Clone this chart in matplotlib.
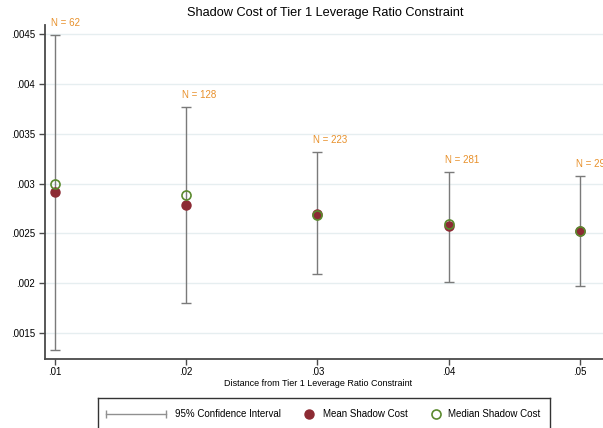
import matplotlib
matplotlib.use("Agg")
import matplotlib.pyplot as plt

plt.rcParams['font.family'] = ['Liberation Sans', 'DejaVu Sans']

# distance buckets and shadow cost summaries
distance = [0.01, 0.02, 0.03, 0.04, 0.05]
mean_cost = [0.002913, 0.002783, 0.002693, 0.002573, 0.002523]
median_cost = [0.003000, 0.002883, 0.002680, 0.002597, 0.002520]
ci_low = [0.001333, 0.001797, 0.002090, 0.002010, 0.001973]
ci_high = [0.004490, 0.003770, 0.003313, 0.003117, 0.003080]
n_obs = [62, 128, 223, 281, 295]

xticks = [0.01, 0.02, 0.03, 0.04, 0.05]
xtick_labels = ['.01', '.02', '.03', '.04', '.05']
yticks = [0.0015, 0.002, 0.0025, 0.003, 0.0035, 0.004, 0.0045]
ytick_labels = ['.0015', '.002', '.0025', '.003', '.0035', '.004', '.0045']

ci_color = '#7a7a7a'
mean_color = '#8c2a33'
median_color = '#5b8a2e'
n_color = '#e8902a'
axis_color = '#4a4a4a'

W, H = 603, 428
fig = plt.figure(figsize=(W / 100, H / 100), dpi=100)
ax = fig.add_axes([45 / W, 1 - 359 / H, 570 / W, 334 / H])

ax.set_xlim(0.00924, 0.05267)
ax.set_ylim(0.00124, 0.00459)

for y in yticks:
    ax.axhline(y, color='#e6eef0', lw=1.0, zorder=0)

yerr = [[m - lo for m, lo in zip(mean_cost, ci_low)],
        [hi - m for m, hi in zip(mean_cost, ci_high)]]
ax.errorbar(distance, mean_cost, yerr=yerr, fmt='none', ecolor=ci_color,
            elinewidth=1.0, capsize=3.5, capthick=1.0, zorder=2)
ax.plot(distance, mean_cost, 'o', color=mean_color, ms=6.5, mec=mean_color, zorder=3)
ax.plot(distance, median_cost, 'o', mfc='none', mec=median_color, ms=6.5, mew=1.2, zorder=4)

for x, hi, n in zip(distance, ci_high, n_obs):
    ax.annotate(f'N = {n}', (x, hi), xytext=(-3, 5), textcoords='offset points',
                color=n_color, fontsize=7, ha='left', va='bottom', annotation_clip=False)

ax.set_xticks(xticks)
ax.set_xticklabels(xtick_labels)
ax.set_yticks(yticks)
ax.set_yticklabels(ytick_labels)
ax.tick_params(axis='both', labelsize=7, length=4.5, width=1.0, color=axis_color, pad=2.5)
ax.tick_params(axis='x', pad=1.5)
ax.set_xlabel('Distance from Tier 1 Leverage Ratio Constraint', fontsize=6.5)
ax.xaxis.set_label_coords((318 - 45) / 570, -(384 - 359) / 334)
ax.xaxis.label.set_va('center')

for side in ('top', 'right'):
    ax.spines[side].set_visible(False)
for side in ('left', 'bottom'):
    ax.spines[side].set_color(axis_color)
    ax.spines[side].set_linewidth(1.3)

fig.text(325 / W, 1 - 13 / H, 'Shadow Cost of Tier 1 Leverage Ratio Constraint',
         ha='center', va='center', fontsize=9.2)

# legend box drawn in its own pixel-scaled axes
lax = fig.add_axes([98 / W, 1 - 440 / H, 452 / W, 42 / H])
lax.set_xlim(98, 550)
lax.set_ylim(440, 398)
lax.set_xticks([])
lax.set_yticks([])
for s in lax.spines.values():
    s.set_color('#333333')
    s.set_linewidth(1.0)

ly = 414
lax.plot([106, 166], [ly, ly], color='#909090', lw=1.0)
lax.plot([106, 166], [ly, ly], ls='none', marker='|', ms=6, mew=1.0, color='#909090')
lax.text(175, ly, '95% Confidence Interval', fontsize=7, va='center')
lax.plot([309], [ly], 'o', color=mean_color, ms=6.5)
lax.text(323, ly, 'Mean Shadow Cost', fontsize=7, va='center')
lax.plot([436], [ly], 'o', mfc='none', mec=median_color, ms=6.5, mew=1.2)
lax.text(448, ly, 'Median Shadow Cost', fontsize=7, va='center')

fig.savefig('out.png', dpi=100)
